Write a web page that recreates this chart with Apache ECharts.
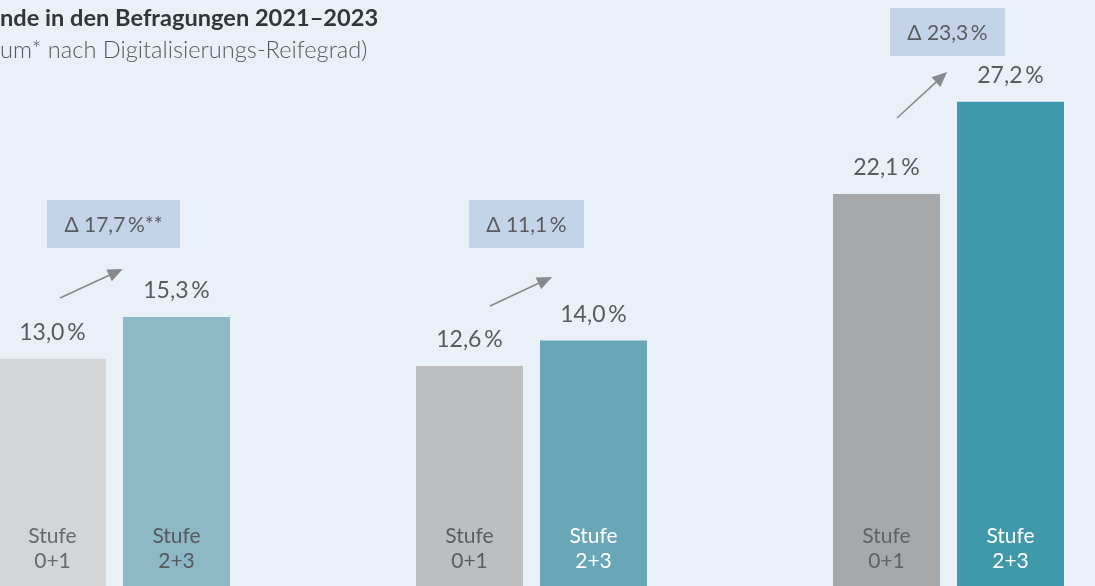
<!DOCTYPE html>
<html><head><meta charset="utf-8">
<script src="https://cdn.jsdelivr.net/npm/echarts@6/dist/echarts.min.js"></script>
<style>html,body{margin:0;padding:0;background:#e9f0f8;overflow:hidden}#c{width:1095px;height:586px}</style>
</head><body><div id="c"></div>
<script>
// ---- data ----
const years = ['2021', '2022', '2023'];
const stufe01 = [13.0, 12.6, 22.1];
const stufe23 = [15.3, 14.0, 27.2];
const deltaLabels = ['Δ 17,7\u2009%**', 'Δ 11,1\u2009%', 'Δ 23,3\u2009%'];
const bottomLabel01 = 'Stufe\n0+1';
const bottomLabel23 = 'Stufe\n2+3';
const titleText = 'nde in den Befragungen 2021–2023';
const subtitleText = 'um* nach Digitalisierungs-Reifegrad)';

// ---- styles ----
const FONT = 'Lato, "Noto Sans", sans-serif';
const grayColors = ['#d4d5d7', '#bdbec0', '#a7a8ab'];
const tealColors = ['#8db8c5', '#69a7b8', '#3f99aa'];
const grayText = ['#666a6e', '#5a5e62', '#5f6367'];
const tealText = ['#555a5e', '#ffffff', '#ffffff'];
const fmt = v => v.toFixed(1).replace('.', ',') + '\u2009%';

const chart = echarts.init(document.getElementById('c'), null, {renderer: 'canvas'});

const barCommon = {type: 'bar', barWidth: 107, barGap: '15.9%', silent: true};
const hiddenCat = {type: 'category', data: years, show: false, gridIndex: 0};

chart.setOption({
  backgroundColor: '#e9f0f8',
  animation: false,
  grid: [{left: -94, width: 1251, top: 51, height: 543, containLabel: false, outerBoundsMode: 'none'}],
  xAxis: [Object.assign({}, hiddenCat), Object.assign({}, hiddenCat)],
  yAxis: [{type: 'value', min: 0, max: 30, show: false}],
  series: [
    Object.assign({}, barCommon, {
      name: 'Stufe 0+1', xAxisIndex: 0,
      data: stufe01.map((v, i) => ({value: v, itemStyle: {color: grayColors[i]}})),
      label: {show: true, position: 'top', distance: 15, fontFamily: FONT, fontSize: 23, color: '#585c60', formatter: p => fmt(p.value)}
    }),
    Object.assign({}, barCommon, {
      name: 'Stufe 2+3', xAxisIndex: 0,
      data: stufe23.map((v, i) => ({value: v, itemStyle: {color: tealColors[i]}})),
      label: {show: true, position: 'top', distance: 15, fontFamily: FONT, fontSize: 23, color: '#585c60', formatter: p => fmt(p.value)}
    }),
    Object.assign({}, barCommon, {
      name: 'lbl01', xAxisIndex: 1,
      data: stufe01.map((v, i) => ({value: v, label: {color: grayText[i]}})),
      itemStyle: {color: 'rgba(0,0,0,0)'},
      label: {show: true, position: 'insideBottom', distance: 20, fontFamily: FONT, fontSize: 21, lineHeight: 25, align: 'center', formatter: bottomLabel01}
    }),
    Object.assign({}, barCommon, {
      name: 'lbl23', xAxisIndex: 1,
      data: stufe23.map((v, i) => ({value: v, label: {color: tealText[i]}})),
      itemStyle: {color: 'rgba(0,0,0,0)'},
      label: {show: true, position: 'insideBottom', distance: 20, fontFamily: FONT, fontSize: 21, lineHeight: 25, align: 'center', formatter: bottomLabel23}
    })
  ]
});

// ---- annotations (delta boxes + arrows), anchored on each category centre ----
const boxSpec = [{dx: -1, w: 133, top: 200}, {dx: -5, w: 115, top: 200}, {dx: -1, w: 115, top: 8}];
const arrowSpec = [
  {x0: -54.5, y0: 298, x1: 8.2, y1: 269},
  {x0: -41.5, y0: 306, x1: 20.5, y1: 277},
  {x0: -51.5, y0: 118, x1: -1.5, y1: 72}
];
const graphics = [
  {type: 'text', left: 0, top: 6, style: {text: titleText, font: 'bold 23.6px ' + FONT, fill: '#333639'}},
  {type: 'text', left: 0, top: 38, style: {text: subtitleText, font: '300 23.6px ' + FONT, fill: '#55595d'}}
];
years.forEach((y, i) => {
  const cx = chart.convertToPixel({xAxisIndex: 0}, y);
  const b = boxSpec[i];
  const bx = cx + b.dx - b.w / 2;
  graphics.push({type: 'rect', shape: {x: bx, y: b.top, width: b.w, height: 48}, style: {fill: '#c3d4e8'}});
  graphics.push({type: 'text', x: bx + b.w / 2, y: b.top + 25, style: {text: deltaLabels[i], font: '21px ' + FONT, fill: '#585c60', textAlign: 'center', textVerticalAlign: 'middle'}});
  const a = arrowSpec[i];
  const sx = cx + a.x0, sy = a.y0, tx = cx + a.x1, ty = a.y1;
  const dx = tx - sx, dy = ty - sy, len = Math.hypot(dx, dy);
  const ux = dx / len, uy = dy / len, hl = 15, hw = 6.5;
  const bxh = tx - ux * hl, byh = ty - uy * hl;
  graphics.push({type: 'line', shape: {x1: sx, y1: sy, x2: bxh + ux * 2, y2: byh + uy * 2}, style: {stroke: '#87898c', lineWidth: 1.6}});
  graphics.push({type: 'polygon', shape: {points: [[tx, ty], [bxh - uy * hw, byh + ux * hw], [bxh + uy * hw, byh - ux * hw]]}, style: {fill: '#87898c'}});
});
chart.setOption({graphic: graphics});
</script>
</body></html>
